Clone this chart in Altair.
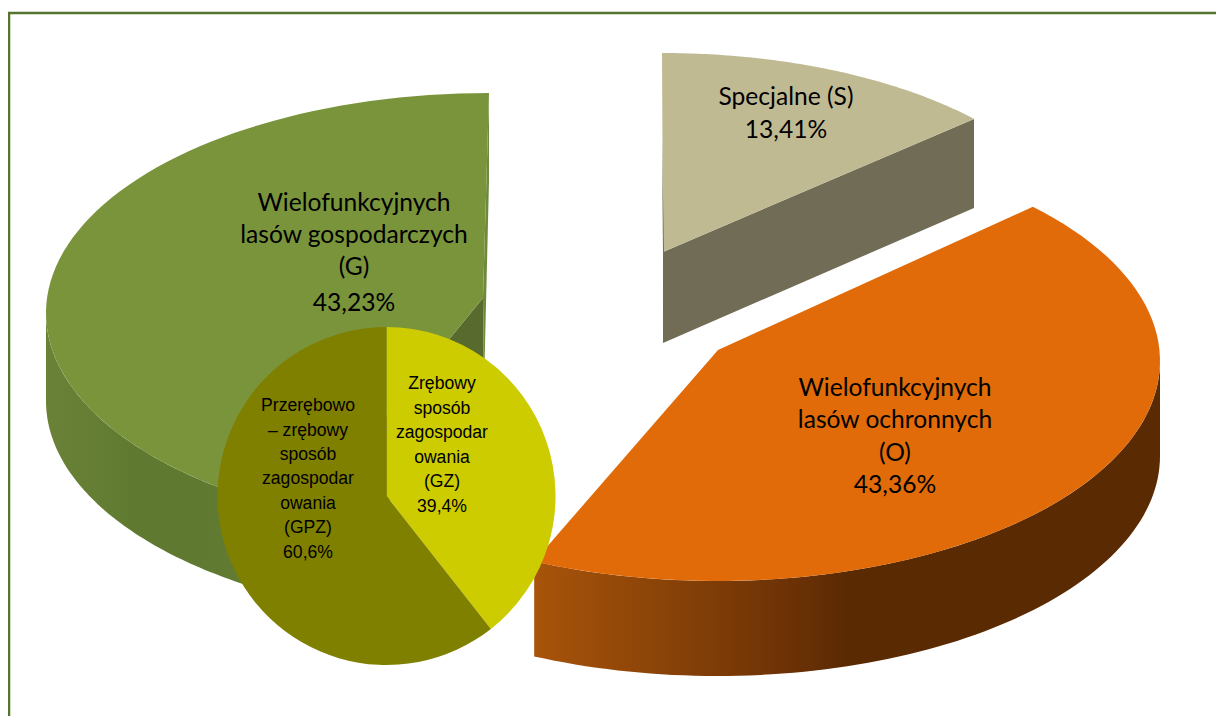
import math
import altair as alt

# ---- data ----
main_names = ["Specjalne (S)", "Wielofunkcyjnych lasów ochronnych (O)", "Wielofunkcyjnych lasów gospodarczych (G)"]
main_shares = [13.41, 43.36, 43.23]
inset_names = ["GZ", "GPZ"]
inset_shares = [39.4, 60.6]
inset_colors = ["#cccc00", "#808000"]

label_rows_main = [
    (["Specjalne (S)", "13,41%"], 786, [98, 131]),
    (["Wielofunkcyjnych", "lasów gospodarczych", "(G)", "43,23%"], 354, [204, 236, 268, 304]),
    (["Wielofunkcyjnych", "lasów ochronnych", "(O)", "43,36%"], 895, [389, 421, 454, 486]),
]
label_rows_inset = [
    (["Zrębowy", "sposób", "zagospodar", "owania", "(GZ)", "39,4%"], 442, [384, 409, 433, 458, 482, 507]),
    (["Przerębowo", "– zrębowy", "sposób", "zagospodar", "owania", "(GPZ)", "60,6%"], 308, [406, 431, 455, 479, 504, 528, 553]),
]

OX, OY = 8, 8  # page margin


def P(x, y):
    return [x - OX, y - OY]


def arc(cx, cy, rx, ry, a0, a1, dy=0, n=80):
    pts = []
    for i in range(n + 1):
        t = math.radians(a0 + (a1 - a0) * i / n)
        pts.append(P(cx + rx * math.sin(t), cy - ry * math.cos(t) + dy))
    return pts


def shape(points, fill):
    ring = points + [points[0]]
    data = alt.InlineData(
        values={"type": "FeatureCollection", "features": [
            {"type": "Feature", "properties": {}, "geometry": {"type": "Polygon", "coordinates": [ring]}}]},
        format=alt.DataFormat(property="features", type="json"),
    )
    return alt.Chart(data).mark_geoshape(fill=fill, stroke=None, strokeWidth=0).project(
        type="identity", scale=1, translate=[0, 0]
    )


def grad(stops):
    return alt.Gradient(gradient="linear", x1=0, x2=1, y1=0, y2=0,
                        stops=[alt.GradientStop(offset=o, color=c) for o, c in stops])


deg = [s * 3.6 for s in main_shares]
a_s = deg[0]
a_o = deg[0] + deg[1]

layers = []

# Green slice (G)
gx, gy, grx, gry, gd = 489, 313, 443, 220, 88
g_top = arc(gx, gy, grx, gry, a_o, 360)
g_wall_top = arc(gx, gy, grx, gry, a_o, 270)
g_wall_bot = arc(gx, gy, grx, gry, a_o, 270, dy=gd)
layers.append(shape(g_wall_top + g_wall_bot[::-1], grad([(0, "#6a8238"), (0.35, "#5f7a30"), (0.55, "#5f7a30"), (1, "#647c34")])))
g_end = g_top[0]
layers.append(shape([P(483, 298), P(484, 386), [g_end[0], g_end[1] + gd], g_end], "#586a2d"))
layers.append(shape([P(489, 93), P(483, 298), P(484, 386), P(489, 181)], "#6c8a3a"))
layers.append(shape([P(483, 298)] + g_top, "#7a943c"))

# Sand slice (S)
sx, sy, srx, sry, sd = 662, 250, 418, 197, 89
s_top = arc(sx, sy, srx, sry, 0, a_s)
s_end = s_top[-1]
layers.append(shape([P(663, 252), s_end, [s_end[0], s_end[1] + sd], P(663, 343)], "#716c56"))
layers.append(shape([P(663, 252)] + s_top, "#c0ba93"))
layers.append(shape([P(662, 140), P(664, 252), P(664, 343), P(663, 252)], "#716c56"))

# Orange slice (O)
ox, oy, orx, ory, od = 717, 361, 443, 220, 95
o_top = arc(ox, oy, orx, ory, a_s - 2.8, a_o)
o_wall_top = arc(ox, oy, orx, ory, 90, a_o)
o_wall_bot = arc(ox, oy, orx, ory, 90, a_o, dy=od)
layers.append(shape(o_wall_top + o_wall_bot[::-1], grad([(0, "#a8540a"), (0.43, "#693005"), (0.5, "#5a2a03"), (1, "#5a2a03")])))
layers.append(shape([P(718, 350)] + o_top, "#e16b08"))

# Inset pie
inset = alt.Chart(alt.Data(values=[
    {"name": n, "share": s, "colour": c, "i": i}
    for i, (n, s, c) in enumerate(zip(inset_names, inset_shares, inset_colors))
])).mark_arc(radius=169).encode(
    theta=alt.Theta("share:Q", stack=True),
    order=alt.Order("i:Q"),
    color=alt.Color("colour:N", scale=None, legend=None),
    x=alt.value(386.5 - OX),
    y=alt.value(496 - OY),
)
layers.append(inset)


def text_layer(rows, font, size):
    vals = []
    for lines, x, ys in rows:
        for line, y in zip(lines, ys):
            vals.append({"t": line, "x": x - OX, "y": y - OY})
    return alt.Chart(alt.Data(values=vals)).mark_text(
        font=font, fontSize=size, color="#000000", align="center", baseline="middle"
    ).encode(
        x=alt.X("x:Q", scale=None, axis=None),
        y=alt.Y("y:Q", scale=None, axis=None),
        text="t:N",
    )


layers.append(text_layer(label_rows_main, "Lato", 24.6))
layers.append(text_layer(label_rows_inset, "Liberation Sans", 17.6))

# Frame
frame_h = alt.Chart(alt.Data(values=[{"a": 0}])).mark_rule(color="#56732f", strokeWidth=2.5).encode(
    x=alt.value(0), x2=alt.value(1208), y=alt.value(13 - OY))
frame_v = alt.Chart(alt.Data(values=[{"a": 0}])).mark_rule(color="#56732f", strokeWidth=2.5).encode(
    x=alt.value(9 - OX), y=alt.value(13 - OY), y2=alt.value(708))
layers = [frame_h, frame_v] + layers

chart = alt.layer(*layers).properties(
    width=1208, height=708, padding=0, autosize=alt.AutoSizeParams(type="none"), background="#ffffff"
).configure_view(stroke=None)

chart.save("out.html", embed_options={"renderer": "svg", "actions": False})
